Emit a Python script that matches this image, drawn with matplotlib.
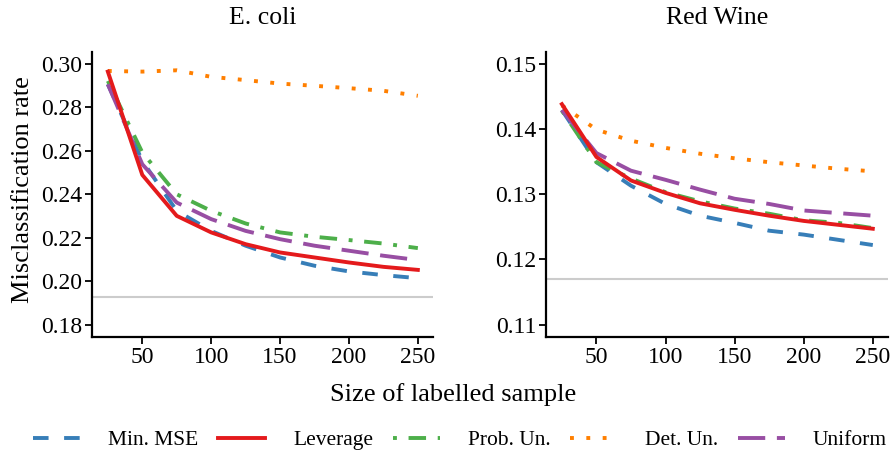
import matplotlib
matplotlib.use("Agg")
import matplotlib.pyplot as plt

plt.rcParams["font.family"] = ["Liberation Serif", "DejaVu Serif"]

sizes = [25, 50, 75, 100, 125, 150, 175, 200, 225, 250]
methods = ["Min. MSE", "Leverage", "Prob. Un.", "Det. Un.", "Uniform"]

ecoli_min_mse = [0.2905, 0.2553, 0.2324, 0.2232, 0.2164, 0.2110, 0.2072, 0.2046, 0.2029, 0.2015]
ecoli_leverage = [0.2963, 0.2489, 0.2301, 0.2225, 0.2171, 0.2133, 0.2110, 0.2087, 0.2067, 0.2053]
ecoli_prob_un = [0.2920, 0.2592, 0.2400, 0.2324, 0.2266, 0.2225, 0.2205, 0.2190, 0.2174, 0.2153]
ecoli_det_un = [0.2966, 0.2963, 0.2969, 0.2939, 0.2924, 0.2908, 0.2898, 0.2887, 0.2875, 0.2852]
ecoli_uniform = [0.2905, 0.2538, 0.2362, 0.2286, 0.2232, 0.2194, 0.2164, 0.2141, 0.2118, 0.2098]
ecoli_baseline = 0.1927

wine_min_mse = [0.1429, 0.1349, 0.1313, 0.1285, 0.1267, 0.1256, 0.1244, 0.1238, 0.1230, 0.1222]
wine_leverage = [0.1438, 0.1357, 0.1321, 0.1302, 0.1286, 0.1276, 0.1267, 0.1259, 0.1253, 0.1247]
wine_prob_un = [0.1428, 0.1349, 0.1324, 0.1303, 0.1289, 0.1278, 0.1270, 0.1260, 0.1256, 0.1248]
wine_det_un = [0.1436, 0.1399, 0.1382, 0.1371, 0.1362, 0.1355, 0.1349, 0.1344, 0.1339, 0.1335]
wine_uniform = [0.1429, 0.1363, 0.1336, 0.1322, 0.1307, 0.1293, 0.1285, 0.1275, 0.1271, 0.1267]
wine_baseline = 0.1170

colors = ["#377EB8", "#E41A1C", "#4DAF4A", "#FF7F00", "#984EA3"]
# ggplot-style linetypes: dashed, solid, dotdash, dotted, longdash
dashes = [(4, 4), None, (1, 3, 4.5, 3), (1, 3.2), (7, 3)]

W, H = 890, 455
fig = plt.figure(figsize=(W / 100, H / 100), dpi=100)


def px_axes(x0, y0, x1, y1):
    return fig.add_axes([x0 / W, 1 - y1 / H, (x1 - x0) / W, (y1 - y0) / H])


def draw_panel(ax, title, series, baseline, ylim, yticks):
    ax.axhline(baseline, color="#cccccc", lw=1.5, zorder=1)
    # red drawn last so it sits on top
    for i in [0, 2, 3, 4, 1]:
        (ln,) = ax.plot(sizes, series[i], color=colors[i], lw=2.8, label=methods[i], zorder=3)
        if dashes[i] is not None:
            ln.set_dashes(dashes[i])
    ax.set_xlim(13.5, 261)
    ax.set_ylim(*ylim)
    ax.set_xticks([50, 100, 150, 200, 250])
    ax.set_yticks(yticks)
    ax.set_yticklabels([f"{v:.2f}" for v in yticks])
    for s in ["top", "right"]:
        ax.spines[s].set_visible(False)
    for s in ["left", "bottom"]:
        ax.spines[s].set_linewidth(1.6)
    ax.tick_params(direction="out", length=5, width=1.3, labelsize=17, colors="black", pad=2)
    ax.set_title(title, fontsize=18.5, pad=20)


ax1 = px_axes(92, 52, 433, 337)
draw_panel(
    ax1, "E. coli",
    [ecoli_min_mse, ecoli_leverage, ecoli_prob_un, ecoli_det_un, ecoli_uniform],
    ecoli_baseline, (0.1745, 0.3053), [0.18, 0.20, 0.22, 0.24, 0.26, 0.28, 0.30],
)

ax2 = px_axes(546, 52, 888, 337)
draw_panel(
    ax2, "Red Wine",
    [wine_min_mse, wine_leverage, wine_prob_un, wine_det_un, wine_uniform],
    wine_baseline, (0.1081, 0.1518), [0.11, 0.12, 0.13, 0.14, 0.15],
)

fig.text(23 / W, 1 - 190 / H, "Misclassification rate", rotation=90,
         ha="center", va="center", fontsize=19)
fig.text(453 / W, 1 - 395 / H, "Size of labelled sample", ha="center", va="center", fontsize=19)

handles, labels = ax1.get_legend_handles_labels()
order = [labels.index(m) for m in methods]
fig.legend(
    [handles[i] for i in order], methods,
    loc="center", bbox_to_anchor=(460 / W, 1 - 440 / H), ncol=5, frameon=False,
    fontsize=15.5, handlelength=2.2, columnspacing=0.9, handletextpad=1.3,
)

fig.savefig("out.png", dpi=100)
